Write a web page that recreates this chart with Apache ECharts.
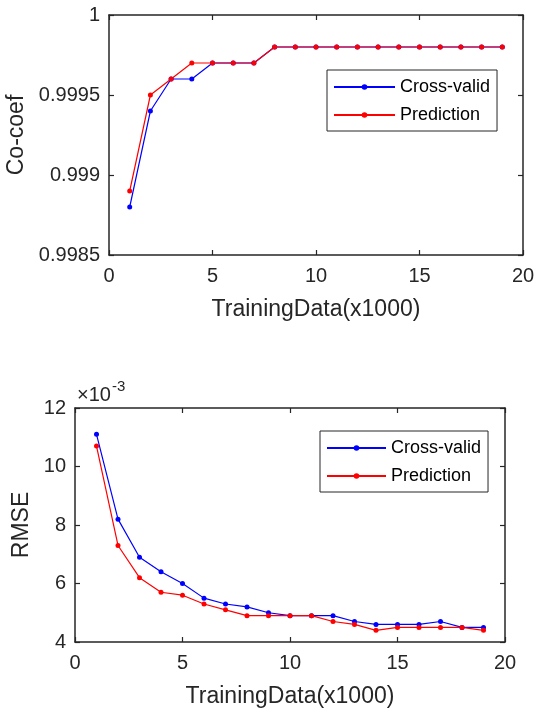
<!DOCTYPE html>
<html><head><meta charset="utf-8">
<script src="https://cdn.jsdelivr.net/npm/echarts@6/dist/echarts.min.js"></script>
<style>html,body{margin:0;padding:0;background:#fff}#c{width:534px;height:713px}</style>
</head><body><div id="c"></div>
<script>
const trainingData = [1,2,3,4,5,6,7,8,9,10,11,12,13,14,15,16,17,18,19];
const coefCross = [0.9988,0.9994,0.9996,0.9996,0.9997,0.9997,0.9997,0.9998,0.9998,0.9998,0.9998,0.9998,0.9998,0.9998,0.9998,0.9998,0.9998,0.9998,0.9998];
const coefPred  = [0.9989,0.9995,0.9996,0.9997,0.9997,0.9997,0.9997,0.9998,0.9998,0.9998,0.9998,0.9998,0.9998,0.9998,0.9998,0.9998,0.9998,0.9998,0.9998];
// RMSE in units of 1e-3
const rmseCross = [11.1,8.2,6.9,6.4,6.0,5.5,5.3,5.2,5.0,4.9,4.9,4.9,4.7,4.6,4.6,4.6,4.7,4.5,4.5];
const rmsePred  = [10.7,7.3,6.2,5.7,5.6,5.3,5.1,4.9,4.9,4.9,4.9,4.7,4.6,4.4,4.5,4.5,4.5,4.5,4.4];
const seriesNames = ['Cross-valid','Prediction'];
const xLabel = 'TrainingData(x1000)';

const FONT = '"Liberation Sans", Arial, Helvetica, sans-serif';
const TXT = '#262626';
const pair = (xs, ys) => xs.map((x, i) => [x, ys[i]]);

function xAx(grid, show) {
  return {
    type: 'value', gridIndex: grid, min: 0, max: 20, interval: 5,
    position: show ? 'bottom' : 'top',
    name: show ? xLabel : '', nameLocation: 'middle', nameGap: 43,
    nameTextStyle: {fontFamily: FONT, fontSize: 23, color: TXT},
    axisLine: {show: true, onZero: false, lineStyle: {color: TXT, width: 1.5}},
    axisTick: {show: true, inside: true, length: 5, lineStyle: {color: TXT, width: 1.2}},
    axisLabel: {show: show, fontFamily: FONT, fontSize: 20, color: TXT, margin: 11},
    splitLine: {show: false}
  };
}
function yAx(grid, show, min, max, interval, name, gap, fmt) {
  return {
    type: 'value', gridIndex: grid, min: min, max: max, interval: interval,
    position: show ? 'left' : 'right',
    name: show ? name : '', nameLocation: 'middle', nameGap: gap,
    nameTextStyle: {fontFamily: FONT, fontSize: 23, color: TXT},
    axisLine: {show: true, onZero: false, lineStyle: {color: TXT, width: 1.5}},
    axisTick: {show: true, inside: true, length: 5, lineStyle: {color: TXT, width: 1.2}},
    axisLabel: {show: show, fontFamily: FONT, fontSize: 20, color: TXT, margin: 9, formatter: fmt},
    splitLine: {show: false}
  };
}
function ser(name, data, color, xi, yi) {
  return {
    name: name, type: 'line', xAxisIndex: xi, yAxisIndex: yi, data: data,
    symbol: 'circle', symbolSize: 5, showSymbol: true,
    lineStyle: {color: color, width: 1.2}, itemStyle: {color: color},
    emphasis: {disabled: true}, animation: false
  };
}
function legend(left, top, w) {
  return {
    show: true, orient: 'vertical', left: left, top: top,
    data: seriesNames.map(n => ({name: n})),
    backgroundColor: '#fff', borderColor: TXT, borderWidth: 1, borderRadius: 0,
    padding: [8, 7, 7, 6], itemGap: 10, itemWidth: w, itemHeight: 7,
    textStyle: {fontFamily: FONT, fontSize: 18, color: '#000'},
    selectedMode: false
  };
}

const chart = echarts.init(document.getElementById('c'), null, {renderer: 'canvas'});
const coefFmt = v => String(parseFloat(v.toFixed(4)));
const rmseFmt = v => String(Math.round(v));
chart.setOption({
  backgroundColor: '#fff',
  animation: false,
  grid: [
    {left: 109, top: 15, width: 414, height: 240, containLabel: false, outerBoundsMode: 'none'},
    {left: 75, top: 408, width: 430, height: 234, containLabel: false, outerBoundsMode: 'none'}
  ],
  xAxis: [xAx(0, true), xAx(0, false), xAx(1, true), xAx(1, false)],
  yAxis: [
    yAx(0, true, 0.9985, 1, 0.0005, 'Co-coef', 77, coefFmt),
    yAx(0, false, 0.9985, 1, 0.0005, '', 0, coefFmt),
    yAx(1, true, 4, 12, 2, 'RMSE', 35, rmseFmt),
    yAx(1, false, 4, 12, 2, '', 0, rmseFmt)
  ],
  legend: [legend(327, 70, 61), legend(320, 431, 59)],
  series: [
    ser(seriesNames[0], pair(trainingData, coefCross), '#0000ff', 0, 0),
    ser(seriesNames[1], pair(trainingData, coefPred), '#ff0000', 0, 0),
    ser(seriesNames[0], pair(trainingData, rmseCross), '#0000ff', 2, 2),
    ser(seriesNames[1], pair(trainingData, rmsePred), '#ff0000', 2, 2)
  ],
  graphic: [
    {type: 'text', x: 77, y: 405, silent: true,
     style: {text: '×10', fontFamily: FONT, fontSize: 20, fill: TXT, verticalAlign: 'bottom', align: 'left'}},
    {type: 'text', x: 112, y: 394, silent: true,
     style: {text: '-3', fontFamily: FONT, fontSize: 15, fill: TXT, verticalAlign: 'bottom', align: 'left'}}
  ]
});
</script></body></html>
